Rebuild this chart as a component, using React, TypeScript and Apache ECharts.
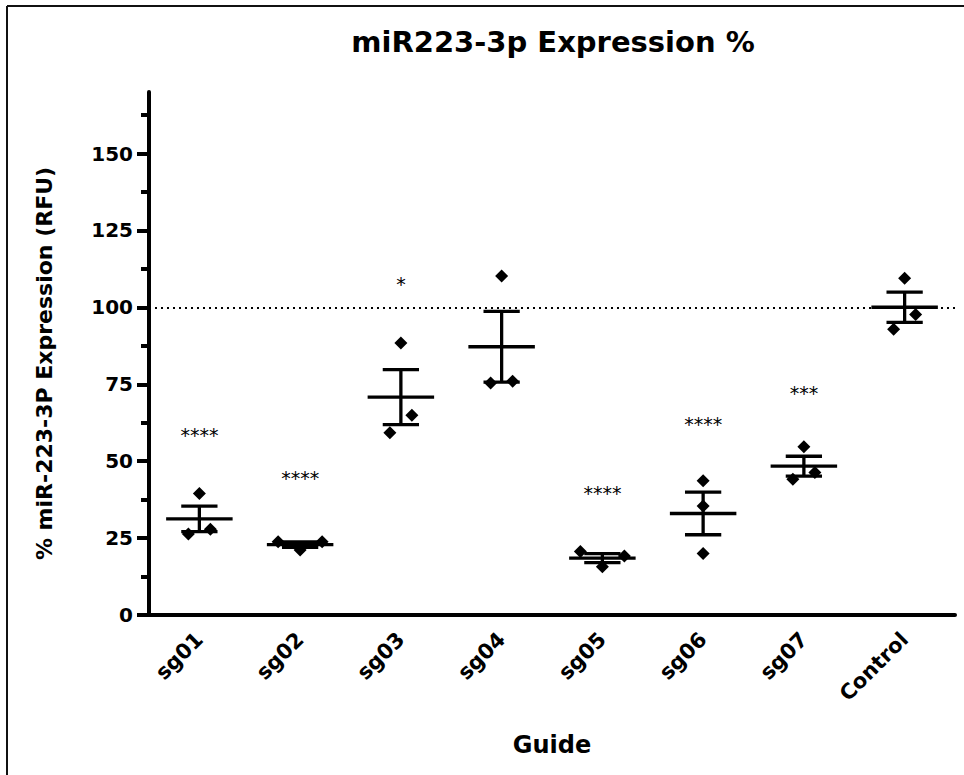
import React, { useEffect, useRef } from "react";
import * as echarts from "echarts";

const categories = ["sg01", "sg02", "sg03", "sg04", "sg05", "sg06", "sg07", "Control"];
const replicates = [
  [39.5, 26.3, 27.9],
  [23.8, 21.1, 23.8],
  [59.2, 64.9, 88.4],
  [110.2, 75.4, 76.0],
  [20.6, 15.7, 19.2],
  [43.6, 35.4, 20.0],
  [54.7, 44.1, 46.3],
  [109.5, 92.9, 97.7],
];
const jitter = [
  [0, -1, 1],
  [-2, 0, 2],
  [-1, 1, 0],
  [0, -1, 1],
  [-2, 0, 2],
  [0, 0, 0],
  [0, -1, 1],
  [0, -1, 1],
];
const sigLabels = ["****", "****", "*", "", "****", "****", "***", ""];
const sigY = [58.4, 44.4, 107.7, null, 39.8, 62.2, 72.2, null];
const majorTicks = [0, 25, 50, 75, 100, 125, 150];
const minorTicks = [12.5, 37.5, 62.5, 87.5, 112.5, 137.5, 162.5];
const referenceLevel = 100;
const yMax = 170;

const FONT = "DejaVu Sans";

function meanSem(v: number[]) {
  const n = v.length;
  const m = v.reduce((a, b) => a + b, 0) / n;
  const sd = Math.sqrt(v.reduce((a, b) => a + (b - m) * (b - m), 0) / (n - 1));
  return [m, m - sd / Math.sqrt(n), m + sd / Math.sqrt(n)];
}

export default function App() {
  const ref = useRef<HTMLDivElement>(null);
  useEffect(() => {
    if (!ref.current) return;
    const chart = echarts.init(ref.current, null, { renderer: "svg" });

    const points: any[] = [];
    replicates.forEach((vals, i) => {
      vals.forEach((v, j) => {
        points.push({ value: [i, v], symbolOffset: [jitter[i][j] * 11, 0] });
      });
    });
    const stats = replicates.map((vals, i) => [i, ...meanSem(vals)]);
    const sigData = sigY
      .map((y, i) => (y == null ? null : { value: [i, y], name: sigLabels[i] }))
      .filter((d) => d);

    const option: any = {
      animation: false,
      backgroundColor: "#fff",
      grid: { left: 149, right: 9, top: 92, height: 523, containLabel: false },
      graphic: [
        { type: "line", shape: { x1: 7, y1: 6, x2: 964, y2: 6 }, style: { stroke: "#111", lineWidth: 2 } },
        { type: "line", shape: { x1: 7, y1: 6, x2: 7, y2: 775 }, style: { stroke: "#111", lineWidth: 2 } },
        {
          type: "text",
          x: 553,
          y: 42,
          style: {
            text: "miR223-3p Expression %",
            font: `bold 29px "${FONT}"`,
            fill: "#000",
            align: "center",
            verticalAlign: "middle",
          },
        },
      ],
      xAxis: {
        type: "category",
        data: categories,
        boundaryGap: true,
        name: "Guide",
        nameLocation: "middle",
        nameGap: 118,
        nameTextStyle: { fontFamily: FONT, fontWeight: "bold", fontSize: 24, color: "#000" },
        axisLine: { lineStyle: { color: "#000", width: 4 } },
        axisTick: { alignWithLabel: true, length: 11, lineStyle: { color: "#000", width: 4 } },
        axisLabel: {
          rotate: 45,
          margin: 21,
          fontFamily: FONT,
          fontWeight: "bold",
          fontSize: 21,
          color: "#000",
        },
        splitLine: { show: false },
      },
      yAxis: [
        {
          type: "value",
          min: 0,
          max: yMax,
          name: "% miR-223-3P Expression (RFU)",
          nameLocation: "middle",
          nameGap: 94,
          nameTextStyle: {
            fontFamily: FONT,
            fontWeight: "bold",
            fontSize: 22,
            color: "#000",
            padding: [0, 20, 0, 0],
          },
          axisLine: { show: true, lineStyle: { color: "#000", width: 4 } },
          axisTick: { show: true, length: 12, lineStyle: { color: "#000", width: 4 }, customValues: majorTicks },
          axisLabel: {
            margin: 16,
            fontFamily: FONT,
            fontWeight: "bold",
            fontSize: 20,
            color: "#000",
            customValues: majorTicks,
          },
          splitLine: { show: false },
        },
        {
          type: "value",
          min: 0,
          max: yMax,
          position: "left",
          axisLine: { show: false },
          axisTick: { show: true, length: 8, lineStyle: { color: "#000", width: 4 }, customValues: minorTicks },
          axisLabel: { show: false },
          splitLine: { show: false },
        },
      ],
      series: [
        {
          type: "custom",
          name: "mean ± SEM",
          data: stats,
          renderItem: (params: any, api: any) => {
            const i = api.value(0);
            const band = api.size([1, 0])[0];
            const m = api.coord([i, api.value(1)]);
            const lo = api.coord([i, api.value(2)]);
            const hi = api.coord([i, api.value(3)]);
            const hw = band * 0.33;
            const cw = band * 0.18;
            const st = { stroke: "#000", lineWidth: 3.3 };
            return {
              type: "group",
              children: [
                { type: "line", shape: { x1: m[0] - hw, y1: m[1], x2: m[0] + hw, y2: m[1] }, style: st },
                { type: "line", shape: { x1: lo[0], y1: lo[1], x2: hi[0], y2: hi[1] }, style: st },
                { type: "line", shape: { x1: hi[0] - cw, y1: hi[1], x2: hi[0] + cw, y2: hi[1] }, style: st },
                { type: "line", shape: { x1: lo[0] - cw, y1: lo[1], x2: lo[0] + cw, y2: lo[1] }, style: st },
              ],
            };
          },
          z: 3,
        },
        {
          type: "scatter",
          name: "replicates",
          data: points,
          symbol: "diamond",
          symbolSize: 13,
          itemStyle: { color: "#000", opacity: 1 },
          z: 4,
          markLine: {
            silent: true,
            symbol: "none",
            label: { show: false },
            lineStyle: { type: [2, 4], width: 2, color: "#000", opacity: 1 },
            data: [{ yAxis: referenceLevel }],
          },
        },
        {
          type: "custom",
          name: "significance",
          data: sigData,
          renderItem: (params: any, api: any) => {
            const p = api.coord([api.value(0), api.value(1)]);
            const d: any = sigData[params.dataIndex];
            return {
              type: "text",
              x: p[0],
              y: p[1],
              style: {
                text: d.name,
                font: `19px "${FONT}"`,
                fill: "#000",
                align: "center",
                verticalAlign: "middle",
              },
            };
          },
          z: 5,
        },
      ],
    };
    chart.setOption(option);
    return () => chart.dispose();
  }, []);
  return (
    <div
      ref={ref}
      style={{ position: "absolute", left: 0, top: 0, width: 964, height: 775, background: "#fff" }}
    />
  );
}
